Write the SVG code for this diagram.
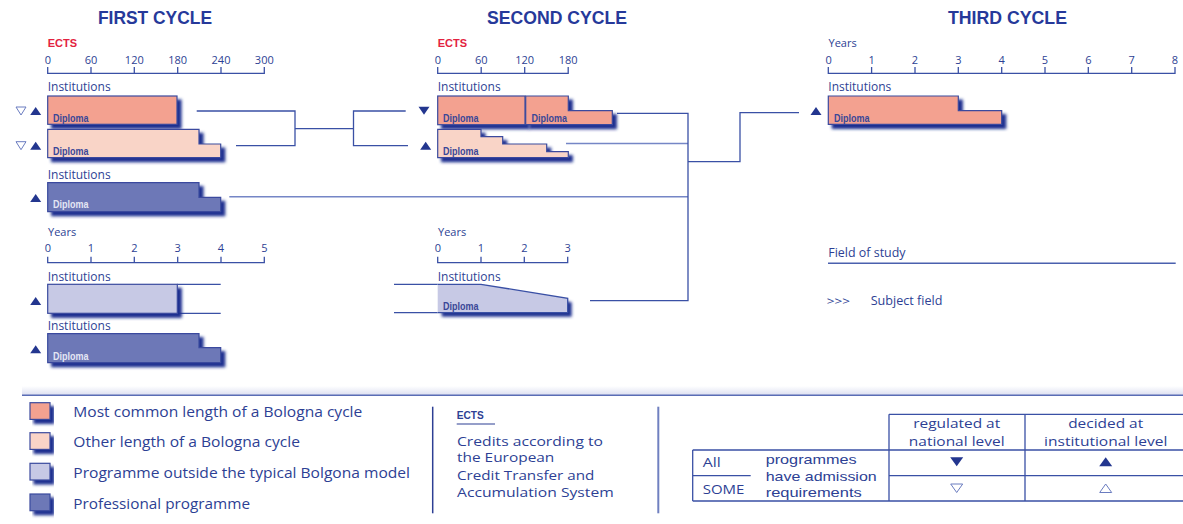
<svg xmlns="http://www.w3.org/2000/svg" width="1183" height="524" viewBox="0 0 1183 524">
<defs>
<filter id="sh" x="-10%" y="-20%" width="130%" height="170%">
<feGaussianBlur in="SourceAlpha" stdDeviation="1.6"/>
<feOffset dx="4" dy="4" result="b"/>
<feFlood flood-color="#1d2f8f"/>
<feComposite in2="b" operator="in"/>
<feMerge><feMergeNode/><feMergeNode in="SourceGraphic"/></feMerge>
</filter>
<linearGradient id="band" x1="0" y1="0" x2="0" y2="1"><stop offset="0" stop-color="#ffffff"/><stop offset="1" stop-color="#dde0f1"/></linearGradient>
</defs>
<style>
.t{font-family:"Open Sans","Liberation Sans",sans-serif;fill:#2d3f94}
.ls{font-family:"Liberation Sans",Arial,sans-serif;fill:#2d3f94;font-size:13px}
.ax{font-size:11px}
.ins{font-size:12px}
.ttl{font-family:"Liberation Sans",Arial,sans-serif;font-weight:bold;font-size:19px;fill:#26399a}
.ects{font-family:"Liberation Sans",Arial,sans-serif;font-weight:bold;font-size:11px;fill:#e3233f}
.dip{font-family:"Liberation Sans",Arial,sans-serif;font-weight:bold;font-size:11px;fill:#3a4797}
.dipl{fill:#e4e6f4}
.axis{fill:none;stroke:#3a50a5;stroke-width:1.3}
.box{stroke:#3a4a9e;stroke-width:1.2}
.sal{fill:#f3a190}
.pink{fill:#f9d4c7}
.lav{fill:#c7c9e5}
.pro{fill:#6d78b7}
.ln{fill:none;stroke:#3a50a5;stroke-width:1.3}
.lnl{fill:none;stroke:#7586c6;stroke-width:1.6}
.tri{fill:#23368f}
.trio{fill:none;stroke:#6a7cc0;stroke-width:1}
.leg{font-size:14.5px}
.tb{font-size:13.5px}
</style>
<rect width="1183" height="524" fill="#ffffff"/>

<g id="titles">
<text class="ttl" x="98" y="24" textLength="114" lengthAdjust="spacingAndGlyphs">FIRST CYCLE</text>
<text class="ttl" x="487" y="24" textLength="140" lengthAdjust="spacingAndGlyphs">SECOND CYCLE</text>
<text class="ttl" x="948" y="24" textLength="119" lengthAdjust="spacingAndGlyphs">THIRD CYCLE</text>
</g>

<g id="axis-first-ects">
<text class="ects" x="47.7" y="46.7">ECTS</text>
<path class="axis" d="M47.7,67V73.3H264.3V67M91,67V73.3M134.3,67V73.3M177.7,67V73.3M221,67V73.3"/>
<g class="t ax" text-anchor="middle">
<text x="48" y="63.5">0</text><text x="91" y="63.5">60</text><text x="134.3" y="63.5">120</text><text x="177.7" y="63.5">180</text><text x="221" y="63.5">240</text><text x="264.3" y="63.5">300</text>
</g>
</g>
<g id="axis-second-ects">
<text class="ects" x="437.7" y="46.7">ECTS</text>
<path class="axis" d="M437.7,67V73.3H568.2V67M481.2,67V73.3M524.7,67V73.3"/>
<g class="t ax" text-anchor="middle">
<text x="438" y="63.5">0</text><text x="481.2" y="63.5">60</text><text x="524.7" y="63.5">120</text><text x="568.2" y="63.5">180</text>
</g>
</g>
<g id="axis-third-years">
<text class="t ax" x="828.5" y="47">Years</text>
<path class="axis" d="M828.3,67V73.3H1175V67M871.6,67V73.3M915,67V73.3M958.3,67V73.3M1001.7,67V73.3M1045,67V73.3M1088.3,67V73.3M1131.7,67V73.3"/>
<g class="t ax" text-anchor="middle">
<text x="828.6" y="63.5">0</text><text x="871.6" y="63.5">1</text><text x="915" y="63.5">2</text><text x="958.3" y="63.5">3</text><text x="1001.7" y="63.5">4</text><text x="1045" y="63.5">5</text><text x="1088.3" y="63.5">6</text><text x="1131.7" y="63.5">7</text><text x="1175" y="63.5">8</text>
</g>
</g>
<g id="axis-first-years">
<text class="t ax" x="48" y="235.5">Years</text>
<path class="axis" d="M47.7,256.7V262.7H264.3V256.7M91,256.7V262.7M134.3,256.7V262.7M177.7,256.7V262.7M221,256.7V262.7"/>
<g class="t ax" text-anchor="middle">
<text x="48" y="251.5">0</text><text x="91" y="251.5">1</text><text x="134.3" y="251.5">2</text><text x="177.7" y="251.5">3</text><text x="221" y="251.5">4</text><text x="264.3" y="251.5">5</text>
</g>
</g>
<g id="axis-second-years">
<text class="t ax" x="438" y="235.5">Years</text>
<path class="axis" d="M437.7,256.7V262.7H567.7V256.7M481,256.7V262.7M524.3,256.7V262.7"/>
<g class="t ax" text-anchor="middle">
<text x="438" y="251.5">0</text><text x="481" y="251.5">1</text><text x="524.3" y="251.5">2</text><text x="567.7" y="251.5">3</text>
</g>
</g>

<g id="connectors">
<path class="ln" d="M196.7,111H295V145.7H236"/>
<path class="ln" d="M295,128.7H353.5"/>
<path class="ln" d="M405.7,111H353.5V145.7H408"/>
<path class="lnl" d="M229.3,196.7H688"/>
<path class="lnl" d="M566,143.5H688"/>
<path class="ln" d="M617,113.3H688V300.7H590"/>
<path class="ln" d="M688,161.7H740V112.7H799"/>
<path class="ln" d="M394,284.3H437.7M394,312.7H437.7"/>
<path class="ln" d="M177.3,284.3H220.7M177.3,313.3H220.7"/>
</g>

<g id="fc-common">
<text class="t ins" x="47.7" y="91">Institutions</text>
<polygon class="trio" points="16,107 26,107 21,115"/>
<polygon class="tri" points="30.2,115 41.2,115 35.7,107"/>
<rect class="box sal" x="47.7" y="96" width="129.3" height="28.3" filter="url(#sh)"/>
<text class="dip" x="53" y="121.7" textLength="35.5" lengthAdjust="spacingAndGlyphs">Diploma</text>
</g>
<g id="fc-other">
<polygon class="trio" points="16,141.7 26,141.7 21,149.7"/>
<polygon class="tri" points="30.2,149.7 41.2,149.7 35.7,141.7"/>
<path class="box pink" d="M47.7,129.3H199V144H220.7V157.7H47.7Z" filter="url(#sh)"/>
<text class="dip" x="53" y="155.3" textLength="35.5" lengthAdjust="spacingAndGlyphs">Diploma</text>
</g>
<g id="fc-professional">
<text class="t ins" x="47.7" y="179">Institutions</text>
<polygon class="tri" points="30.2,202 41.2,202 35.7,194"/>
<path class="box pro" d="M47.7,182.7H199V197.3H220.7V211.7H47.7Z" filter="url(#sh)"/>
<text class="dip dipl" x="53" y="208" textLength="35.5" lengthAdjust="spacingAndGlyphs">Diploma</text>
</g>
<g id="fc-outside">
<text class="t ins" x="47.7" y="281.3">Institutions</text>
<polygon class="tri" points="30.2,305 41.2,305 35.7,297"/>
<rect class="box lav" x="47.7" y="284.3" width="129.6" height="29" filter="url(#sh)"/>
</g>
<g id="fc-professional-years">
<text class="t ins" x="47.7" y="330">Institutions</text>
<polygon class="tri" points="30.2,353.3 41.2,353.3 35.7,345.3"/>
<path class="box pro" d="M47.7,333.7H199V347.7H220.7V362.7H47.7Z" filter="url(#sh)"/>
<text class="dip dipl" x="53" y="359.5" textLength="35.5" lengthAdjust="spacingAndGlyphs">Diploma</text>
</g>

<g id="sc-common">
<text class="t ins" x="437.7" y="91">Institutions</text>
<polygon class="tri" points="418.5,106.7 429.5,106.7 424,114.7"/>
<rect class="box sal" x="437.7" y="96" width="87.3" height="28.7" filter="url(#sh)"/>
<text class="dip" x="443" y="121.7" textLength="35.5" lengthAdjust="spacingAndGlyphs">Diploma</text>
<path class="box sal" d="M525.7,96H568.3V110.7H612.3V124.7H525.7Z" filter="url(#sh)"/>
<text class="dip" x="531.5" y="121.7" textLength="35.5" lengthAdjust="spacingAndGlyphs">Diploma</text>
</g>
<g id="sc-other">
<polygon class="tri" points="420.2,149.7 431.2,149.7 425.7,141.7"/>
<path class="box pink" d="M437.7,129.3H481V136.7H502.7V144H546.7V151.7H568.3V157.7H437.7Z" filter="url(#sh)"/>
<text class="dip" x="443" y="155.3" textLength="35.5" lengthAdjust="spacingAndGlyphs">Diploma</text>
</g>
<g id="sc-outside">
<text class="t ins" x="437.7" y="281.3">Institutions</text>
<path class="lav" d="M437.7,284.3H481L567.7,298.3V312.7H437.7Z" filter="url(#sh)"/>
<path class="ln" d="M437.7,284.3H481L567.7,298.3V312.7H437.7"/>
<text class="dip" x="443" y="310" textLength="35.5" lengthAdjust="spacingAndGlyphs">Diploma</text>
</g>

<g id="tc-common">
<text class="t ins" x="828.3" y="91">Institutions</text>
<polygon class="tri" points="810.5,115 821.5,115 816,107"/>
<path class="box sal" d="M828.3,96H958.3V110.7H1001.7V124.3H828.3Z" filter="url(#sh)"/>
<text class="dip" x="834" y="121.7" textLength="35.5" lengthAdjust="spacingAndGlyphs">Diploma</text>
</g>

<g id="field-of-study">
<text class="t ins" x="828.3" y="257" textLength="77.3" lengthAdjust="spacingAndGlyphs">Field of study</text>
<path d="M828,263.3H1175.7" stroke="#4a60ae" stroke-width="1.6" fill="none"/>
<text class="t ax" x="826.7" y="304.5" textLength="23.3" lengthAdjust="spacingAndGlyphs">&gt;&gt;&gt;</text>
<text class="t ins" x="870.7" y="304.5" textLength="71.7" lengthAdjust="spacingAndGlyphs">Subject field</text>
</g>

<g id="legend">
<rect x="22" y="386" width="1161" height="9" fill="url(#band)"/>
<path d="M22,395.3H1183" stroke="#5a6db5" stroke-width="1.5"/>
<rect class="box sal" x="30" y="402.7" width="20" height="16.7" filter="url(#sh)"/>
<rect class="box pink" x="30" y="432.7" width="20" height="16.7" filter="url(#sh)"/>
<rect class="box lav" x="30" y="463.3" width="20" height="16.7" filter="url(#sh)"/>
<rect class="box pro" x="30" y="494" width="20" height="16.7" filter="url(#sh)"/>
<g class="t leg">
<text x="73.3" y="417" textLength="289" lengthAdjust="spacingAndGlyphs">Most common length of a Bologna cycle</text>
<text x="73.3" y="447" textLength="226.7" lengthAdjust="spacingAndGlyphs">Other length of a Bologna cycle</text>
<text x="73.3" y="478" textLength="336.7" lengthAdjust="spacingAndGlyphs">Programme outside the typical Bolgona model</text>
<text x="73.3" y="509" textLength="176.7" lengthAdjust="spacingAndGlyphs">Professional programme</text>
</g>
<path d="M432.7,406.7V513.3" stroke="#2d3f94" stroke-width="1.5"/>
<path d="M658.3,406.7V513.3" stroke="#7080c0" stroke-width="2"/>
</g>

<g id="legend-ects">
<text class="dip" x="456.7" y="419.3" textLength="27" lengthAdjust="spacingAndGlyphs" style="fill:#2d3f94">ECTS</text>
<path d="M456.7,424H495" stroke="#2d3f94" stroke-width="1.2"/>
<g class="t tb">
<text x="457" y="445.7" textLength="146" lengthAdjust="spacingAndGlyphs">Credits according to</text>
<text x="457" y="462.3" textLength="97.3" lengthAdjust="spacingAndGlyphs">the European</text>
<text x="457" y="480" textLength="137.3" lengthAdjust="spacingAndGlyphs">Credit Transfer and</text>
<text x="457" y="497.3" textLength="156.7" lengthAdjust="spacingAndGlyphs">Accumulation System</text>
</g>
</g>

<g id="legend-table">
<path class="ln" d="M889,414.3H1183M889,414.3V501M1025,414.3V501M692.7,450H1183M692.7,450V501M692.7,501H1183M692.7,475.7H750.7M889,475.7H1183"/>
<g class="t tb" text-anchor="middle">
<text x="956.7" y="428.3" textLength="87" lengthAdjust="spacingAndGlyphs">regulated at</text>
<text x="956.7" y="445.7" textLength="95.7" lengthAdjust="spacingAndGlyphs">national level</text>
<text x="1105.7" y="428.3" textLength="75" lengthAdjust="spacingAndGlyphs">decided at</text>
<text x="1105.7" y="445.7" textLength="123.3" lengthAdjust="spacingAndGlyphs">institutional level</text>
</g>
<g class="t tb">
<text x="702.7" y="466.7" textLength="18" lengthAdjust="spacingAndGlyphs">All</text>
<text x="702.7" y="494.3" textLength="41.7" lengthAdjust="spacingAndGlyphs">SOME</text>
</g>
<g class="ls">
<text x="765.7" y="464.3" textLength="91" lengthAdjust="spacingAndGlyphs">programmes</text>
<text x="765.7" y="481.2" textLength="111" lengthAdjust="spacingAndGlyphs">have admission</text>
<text x="765.7" y="497" textLength="96" lengthAdjust="spacingAndGlyphs">requirements</text>
</g>
<polygon class="tri" points="950.2,457.2 963.2,457.2 956.7,466.2"/>
<polygon class="tri" points="1099.2,466.2 1112.2,466.2 1105.7,457.2"/>
<polygon class="trio" points="950.7,484 962.7,484 956.7,492.5"/>
<polygon class="trio" points="1099.7,492.5 1111.7,492.5 1105.7,484"/>
</g>
</svg>
